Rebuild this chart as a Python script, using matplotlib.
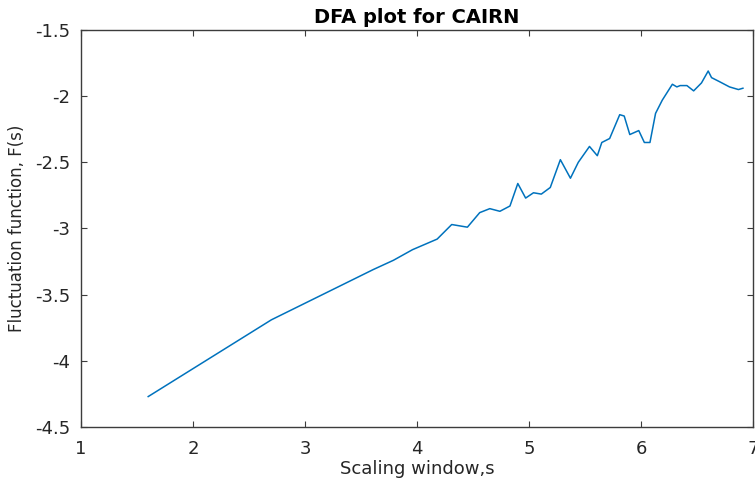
import matplotlib.pyplot as plt

# DFA curve
scale = [1.60, 2.70, 3.61, 3.79, 3.96, 4.18, 4.31, 4.45, 4.56, 4.65, 4.74, 4.83,
         4.90, 4.97, 5.04, 5.11, 5.19, 5.22, 5.28, 5.37, 5.44, 5.54, 5.61, 5.65,
         5.72, 5.81, 5.85, 5.90, 5.98, 6.03, 6.08, 6.13, 6.19, 6.28, 6.32, 6.35,
         6.41, 6.47, 6.54, 6.60, 6.63, 6.70, 6.79, 6.87, 6.91]
fluct = [-4.27, -3.69, -3.31, -3.24, -3.16, -3.08, -2.97, -2.99, -2.88, -2.85, -2.87, -2.83,
         -2.66, -2.77, -2.73, -2.74, -2.69, -2.62, -2.48, -2.62, -2.50, -2.38, -2.45, -2.35,
         -2.32, -2.14, -2.15, -2.29, -2.26, -2.35, -2.35, -2.13, -2.03, -1.91, -1.93, -1.92,
         -1.92, -1.96, -1.90, -1.81, -1.86, -1.89, -1.93, -1.95, -1.94]

xticks = [1, 2, 3, 4, 5, 6, 7]
yticks = [-4.5, -4, -3.5, -3, -2.5, -2, -1.5]
ytick_labels = ["-4.5", "-4", "-3.5", "-3", "-2.5", "-2", "-1.5"]

plt.rcParams['font.family'] = ['DejaVu Sans']
fig = plt.figure(figsize=(7.55, 4.8), dpi=100)
ax = fig.add_axes([81 / 755, 53 / 480, 672 / 755, 397 / 480])

ax.plot(scale, fluct, color="#0072BD", linewidth=1.1)

ax.set_xlim(1, 7)
ax.set_ylim(-4.5, -1.5)
ax.set_xticks(xticks)
ax.set_xticklabels([str(t) for t in xticks])
ax.set_yticks(yticks)
ax.set_yticklabels(ytick_labels)

edge = "#3c3c3c"
for sp in ax.spines.values():
    sp.set_color(edge)
    sp.set_linewidth(1.0)
ax.tick_params(direction="in", length=4, width=0.8, colors=edge, labelsize=13,
               top=True, right=True, labelcolor="#262626")
ax.tick_params(axis="x", pad=9)
ax.tick_params(axis="y", pad=8)

ax.set_title("DFA plot for CAIRN", fontsize=14, fontweight="bold", pad=5)
ax.set_xlabel("Scaling window,s", fontsize=13, color="#262626", labelpad=2)
ax.set_ylabel("Fluctuation function, F(s)", fontsize=12, color="#262626", labelpad=6)

fig.savefig("out.png", dpi=100)
